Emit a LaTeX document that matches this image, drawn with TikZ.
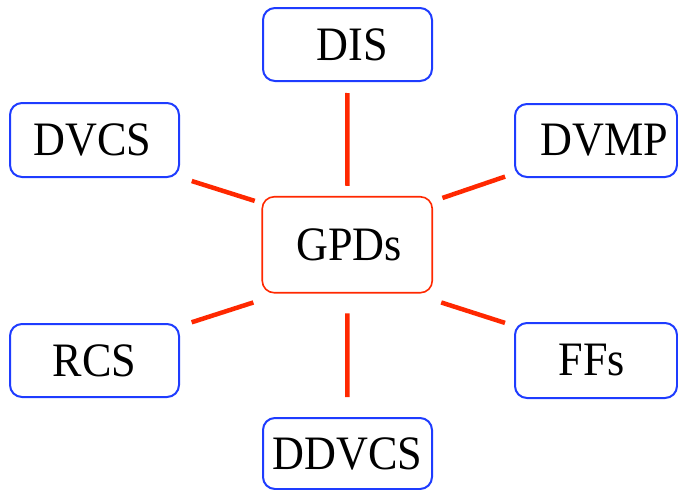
\documentclass[tikz,border=0pt]{standalone}
\usepackage{fontspec}
\setmainfont{Liberation Serif}
\definecolor{boxblue}{RGB}{30,60,255}
\definecolor{linkred}{RGB}{255,40,0}
\newcommand\boxlab[2][0pt]{\scalebox{0.92}[1]{\kern#1#2\kern-#1}}
\begin{document}
\begin{tikzpicture}[x=1pt,y=-1pt,
  lbl/.style={font=\fontsize{48}{54}\selectfont, inner sep=0pt, outer sep=0pt, rounded corners=12pt, align=center},
  probe/.style={lbl, draw=boxblue, line width=2pt},
  hub/.style={lbl, draw=linkred, line width=1.6pt},
  link/.style={draw=linkred, line width=4.5pt}]
\useasboundingbox (0,0) rectangle (678,490);
\node[probe, minimum width=169pt, minimum height=73pt] (DIS) at (347.5,44.5) {\boxlab[5pt]{DIS}};
\node[probe, minimum width=169pt, minimum height=74pt] (DVCS) at (94.5,140) {\boxlab[-2pt]{DVCS}};
\node[probe, minimum width=162pt, minimum height=73pt] (DVMP) at (596,140.5) {\boxlab[9pt]{DVMP}};
\node[hub, minimum width=170pt, minimum height=96pt] (GPDs) at (347.25,244.75) {\boxlab[2pt]{GPDs}};
\node[probe, minimum width=169pt, minimum height=73pt] (RCS) at (94.5,360.5) {\boxlab{RCS}};
\node[probe, minimum width=162pt, minimum height=75pt] (FFs) at (596,360.5) {\boxlab[-4.5pt]{FFs}};
\node[probe, minimum width=169pt, minimum height=71pt] (DDVCS) at (347.5,453.5) {\boxlab{DDVCS}};
\draw[link, shorten <=12pt, shorten >=11pt] (DIS.south) -- (GPDs.north);
\draw[link, shorten <=20.6pt, shorten >=21pt] (GPDs.south) -- (DDVCS.north);
\draw[link, shorten <=13.4pt, shorten >=7.9pt] (DVCS.south east) -- (GPDs.154.5);
\draw[link, shorten <=13.3pt, shorten >=31.7pt] (RCS.22) -- (GPDs.217.6);
\draw[link, shorten <=10.5pt, shorten >=10.8pt] (DVMP.202) -- (GPDs.27.4);
\draw[link, shorten <=10.5pt, shorten >=31.8pt] (FFs.157) -- (GPDs.323.5);
\end{tikzpicture}
\end{document}
